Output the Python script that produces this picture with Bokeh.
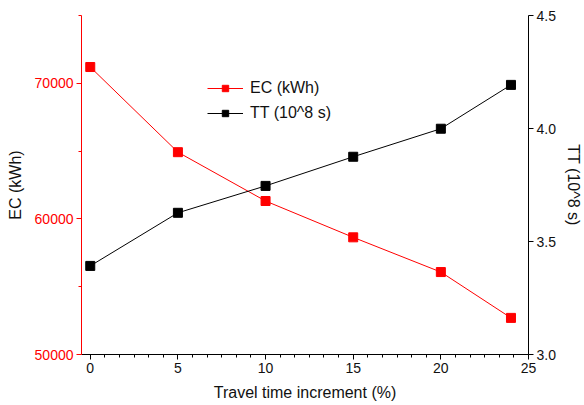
import math
from bokeh.plotting import figure
from bokeh.models import Range1d, LinearAxis, SingleIntervalTicker, Legend, LegendItem, NumeralTickFormatter
from bokeh.embed import file_html
from bokeh.resources import INLINE

x_vals = [0, 5, 10, 15, 20, 24]
ec_vals = [71200, 64920, 61320, 58640, 56080, 52700]
tt_vals = [3.392, 3.627, 3.746, 3.875, 3.999, 4.193]
ec_label = "EC (kWh)"
tt_label = "TT (10^8 s)"
x_label = "Travel time increment (%)"

FONT = "Liberation Sans"
TXT = "#111111"

p = figure(width=584, height=405, output_backend="svg", toolbar_location=None,
           x_range=Range1d(-0.5, 25), y_range=Range1d(50000, 75000),
           min_border_left=81, min_border_right=50, min_border_top=15, min_border_bottom=51)
p.outline_line_color = None
p.xgrid.visible = False
p.ygrid.visible = False
p.background_fill_color = "white"
p.border_fill_color = "white"

p.extra_y_ranges = {"tt": Range1d(3.0, 4.5)}

# bottom axis
xa = p.xaxis[0]
xa.ticker = SingleIntervalTicker(interval=5, num_minor_ticks=6)
xa.axis_label = x_label
xa.axis_label_text_font = FONT
xa.axis_label_text_font_size = "16px"
xa.axis_label_text_font_style = "normal"
xa.axis_label_text_color = TXT
xa.axis_label_standoff = 8
xa.major_label_text_font = FONT
xa.major_label_text_font_size = "14px"
xa.major_label_text_color = TXT
xa.major_tick_in = 0
xa.major_tick_out = 5
xa.minor_tick_in = 0
xa.minor_tick_out = 3
xa.axis_line_color = "black"
xa.major_tick_line_color = "black"
xa.minor_tick_line_color = "black"
xa.major_label_standoff = 3

# left axis
ya = p.yaxis[0]
ya.ticker = SingleIntervalTicker(interval=10000, num_minor_ticks=2)
ya.axis_label = ec_label
ya.axis_label_text_font = FONT
ya.axis_label_text_font_size = "16px"
ya.axis_label_text_font_style = "normal"
ya.axis_label_text_color = TXT
ya.axis_label_standoff = 8
ya.major_label_text_font = FONT
ya.major_label_text_font_size = "14px"
ya.major_label_text_color = "red"
ya.axis_line_color = "red"
ya.major_tick_line_color = "red"
ya.minor_tick_line_color = "red"
ya.major_tick_in = 0
ya.major_tick_out = 5
ya.minor_tick_in = 0
ya.minor_tick_out = 3
ya.major_label_standoff = 3

# right axis
ra = LinearAxis(y_range_name="tt")
ra.ticker = SingleIntervalTicker(interval=0.5, num_minor_ticks=0)
ra.formatter = NumeralTickFormatter(format="0.0")
ra.axis_label = tt_label
ra.axis_label_orientation = "vertical"
ra.axis_label_text_font = FONT
ra.axis_label_text_font_size = "16px"
ra.axis_label_text_font_style = "normal"
ra.axis_label_text_color = TXT
ra.axis_label_standoff = 6
ra.major_label_text_font = FONT
ra.major_label_text_font_size = "14px"
ra.major_label_text_color = TXT
ra.major_tick_in = 0
ra.major_tick_out = 5
ra.minor_tick_in = 0
ra.minor_tick_out = 0
ra.major_label_standoff = 3
p.add_layout(ra, "right")

ec_line = p.line(x_vals, ec_vals, line_color="red", line_width=1)
ec_pts = p.scatter(x_vals, ec_vals, marker="square", size=9, fill_color="red", line_color="red")
tt_line = p.line(x_vals, tt_vals, line_color="black", line_width=1, y_range_name="tt")
tt_pts = p.scatter(x_vals, tt_vals, marker="square", size=9, fill_color="black", line_color="black", y_range_name="tt")

legend = Legend(items=[LegendItem(label=ec_label, renderers=[ec_line, ec_pts]),
                       LegendItem(label=tt_label, renderers=[tt_line, tt_pts])],
                location=(126, 232), orientation="vertical")
legend.border_line_alpha = 0
legend.background_fill_alpha = 0
legend.padding = 0
legend.margin = 0
legend.spacing = 7
legend.glyph_width = 36
legend.glyph_height = 16
legend.label_height = 16
legend.label_standoff = 7
legend.label_text_font = FONT
legend.label_text_font_size = "16px"
legend.label_text_color = TXT
p.add_layout(legend, "center")

open("out.html", "w").write(file_html(p, INLINE))
